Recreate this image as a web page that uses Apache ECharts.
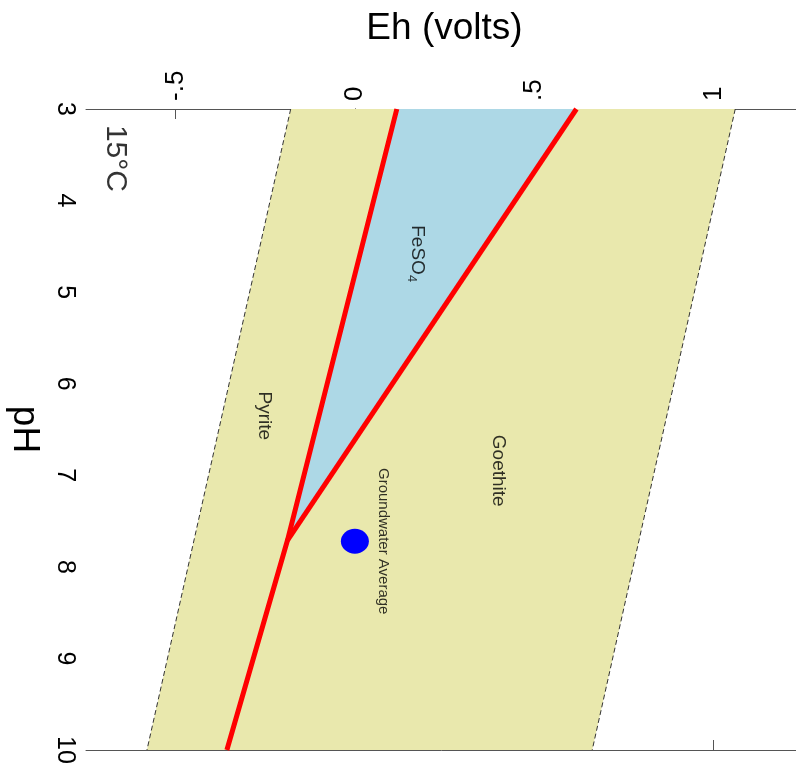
<!DOCTYPE html>
<html>
<head>
<meta charset="utf-8">
<script src="https://cdn.jsdelivr.net/npm/echarts@6/dist/echarts.min.js"></script>
<style>
html,body{margin:0;padding:0;background:#fff;}
#chart{width:796px;height:767px;}
</style>
</head>
<body>
<div id="chart"></div>
<script>
// ---- data ----
const phRange = [3, 10];
const ehRange = [-0.75, 1.25];
const phTicks = [3, 4, 5, 6, 7, 8, 9, 10];
const ehTicks = [-0.5, 0, 0.5, 1];
const ehTickLabels = ['-.5', '0', '.5', '1'];

// water stability limits (Eh at pH 3 and pH 10)
const waterPH = [3, 10];
const waterLowerEh = [-0.179, -0.580];
const waterUpperEh = [1.061, 0.662];

// pyrite boundary (Pyrite/FeSO4 then Pyrite/Goethite)
const pyriteBoundaryPH = [3, 7.71, 10];
const pyriteBoundaryEh = [0.117, -0.188, -0.357];
// FeSO4/Goethite boundary
const goethiteBoundaryPH = [3, 7.71];
const goethiteBoundaryEh = [0.618, -0.188];

// groundwater average point
const groundwaterPH = [7.72];
const groundwaterEh = [0.0];

// region labels
const labelTexts = ['FeSO4', 'Pyrite', 'Goethite', 'Groundwater Average', '15°C'];
const labelPH = [4.58, 6.35, 6.95, 7.72, 3.54];
const labelEh = [0.173, -0.252, 0.40, 0.080, -0.667];

// ---- build ----
const chart = echarts.init(document.getElementById('chart'));

const bandPts = [
  [waterLowerEh[0], waterPH[0]],
  [waterLowerEh[1], waterPH[1]],
  [waterUpperEh[1], waterPH[1]],
  [waterUpperEh[0], waterPH[0]]
];
const trianglePts = [
  [pyriteBoundaryEh[0], pyriteBoundaryPH[0]],
  [goethiteBoundaryEh[0], goethiteBoundaryPH[0]],
  [goethiteBoundaryEh[1], goethiteBoundaryPH[1]]
];

function polygonSeries(pts, color) {
  return {
    type: 'custom',
    silent: true,
    clip: true,
    data: [0],
    renderItem: function (params, api) {
      return {
        type: 'polygon',
        shape: { points: pts.map(p => api.coord(p)) },
        style: { fill: color }
      };
    },
    z: 1
  };
}

const font = 'Liberation Sans, Arial, Helvetica, sans-serif';
const labelSizes = { 'FeSO4': 19, 'Pyrite': 19, 'Goethite': 19, 'Groundwater Average': 15, '15°C': 30 };

const axisLineStyle = { color: '#555', width: 1 };

const option = {
  animation: false,
  textStyle: { fontFamily: font },
  grid: {
    left: 86, top: 109, width: 717, height: 641,
    containLabel: false, outerBoundsMode: 'none'
  },
  xAxis: [
    {
      type: 'value', position: 'top', min: ehRange[0], max: ehRange[1],
      axisLine: { show: true, lineStyle: axisLineStyle },
      axisTick: { show: true, inside: true, length: 10, customValues: ehTicks, lineStyle: axisLineStyle },
      axisLabel: {
        customValues: ehTicks, rotate: -90, fontSize: 26, color: '#000', margin: 8,
        fontFamily: font,
        formatter: v => { const i = ehTicks.findIndex(t => Math.abs(t - v) < 1e-9); return i >= 0 ? ehTickLabels[i] : ''; }
      },
      splitLine: { show: false },
      name: 'Eh (volts)', nameLocation: 'middle', nameGap: 62, nameRotate: 0,
      nameMoveOverlap: false,
      nameTextStyle: { fontSize: 37, color: '#000', fontFamily: font }
    },
    {
      type: 'value', position: 'bottom', min: ehRange[0], max: ehRange[1],
      axisLine: { show: true, lineStyle: axisLineStyle },
      axisTick: { show: true, inside: true, length: 10, customValues: ehTicks, lineStyle: axisLineStyle },
      axisLabel: { show: false },
      splitLine: { show: false }
    }
  ],
  yAxis: [
    {
      type: 'value', position: 'left', inverse: true, min: phRange[0], max: phRange[1], interval: 1,
      axisLine: { show: true, lineStyle: axisLineStyle },
      axisTick: { show: true, inside: true, length: 10, lineStyle: axisLineStyle },
      axisLabel: { rotate: -90, fontSize: 25, color: '#000', margin: 9, fontFamily: font,
        formatter: v => phTicks.includes(v) ? String(v) : '' },
      splitLine: { show: false },
      name: 'pH', nameLocation: 'middle', nameGap: 43, nameRotate: -90,
      nameMoveOverlap: false,
      nameTextStyle: { fontSize: 37, color: '#000', fontFamily: font }
    },
    {
      type: 'value', position: 'right', inverse: true, min: phRange[0], max: phRange[1], interval: 1,
      axisLine: { show: true, lineStyle: axisLineStyle },
      axisTick: { show: true, inside: true, length: 10, lineStyle: axisLineStyle },
      axisLabel: { show: false },
      splitLine: { show: false }
    }
  ],
  series: [
    polygonSeries(bandPts, '#E9E8AD'),
    polygonSeries(trianglePts, '#ADD8E6'),
    {
      type: 'line', showSymbol: false, silent: true, z: 3,
      data: waterPH.map((p, i) => [waterLowerEh[i], p]),
      lineStyle: { color: '#333', width: 1, type: [5, 3] }
    },
    {
      type: 'line', showSymbol: false, silent: true, z: 3,
      data: waterPH.map((p, i) => [waterUpperEh[i], p]),
      lineStyle: { color: '#333', width: 1, type: [5, 3] }
    },
    {
      type: 'line', showSymbol: false, silent: true, z: 4,
      data: pyriteBoundaryPH.map((p, i) => [pyriteBoundaryEh[i], p]),
      lineStyle: { color: '#FF0000', width: 5, join: 'miter' }
    },
    {
      type: 'line', showSymbol: false, silent: true, z: 4,
      data: goethiteBoundaryPH.map((p, i) => [goethiteBoundaryEh[i], p]),
      lineStyle: { color: '#FF0000', width: 5 }
    },
    {
      type: 'scatter', silent: true, z: 5,
      data: groundwaterPH.map((p, i) => [groundwaterEh[i], p]),
      symbol: 'circle', symbolSize: [28, 25],
      itemStyle: { color: '#0000FF', opacity: 1 }
    },
    {
      type: 'scatter', silent: true, z: 6,
      data: labelTexts.map((t, i) => ({ value: [labelEh[i], labelPH[i]], name: t,
        label: { fontSize: labelSizes[t] } })),
      symbolSize: 2,
      itemStyle: { color: 'rgba(0,0,0,0)' },
      label: {
        show: true, position: 'inside', rotate: -90, color: '#000', fontFamily: font,
        formatter: p => p.name === 'FeSO4' ? '{a|FeSO}{b|4}' : p.name,
        rich: {
          a: { fontSize: 19, color: '#000', fontFamily: font },
          b: { fontSize: 13, color: '#000', fontFamily: font, padding: [10, 0, 0, 0] }
        }
      },
      labelLayout: { hideOverlap: false }
    }
  ]
};
chart.setOption(option);
</script>
</body>
</html>
